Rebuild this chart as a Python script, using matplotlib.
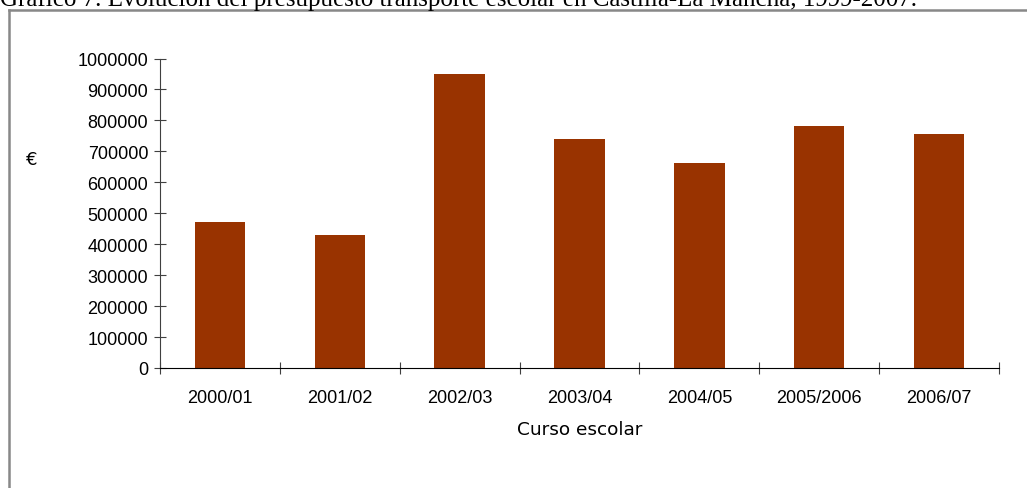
import matplotlib.pyplot as plt
from matplotlib.lines import Line2D

# datos
cursos = ['2000/01', '2001/02', '2002/03', '2003/04', '2004/05', '2005/2006', '2006/07']
presupuesto = [472000, 430000, 950000, 740000, 662000, 782000, 756000]
yticks = [0, 100000, 200000, 300000, 400000, 500000, 600000, 700000, 800000, 900000, 1000000]

fig = plt.figure(figsize=(10.27, 4.89), dpi=100)
ax = fig.add_axes([160 / 1027, 1 - 369 / 489, 839 / 1027, 309.5 / 489])

x = range(len(cursos))
ax.bar(x, presupuesto, width=0.42, color='#993300')

ax.set_xlim(-0.5, len(cursos) - 0.5)
ax.set_ylim(0, 1000000)
ax.set_yticks(yticks)
ax.set_yticklabels([str(v) for v in yticks], fontsize=13, family='Liberation Sans')
ax.set_xticks([i + 0.5 for i in range(-1, len(cursos))])
ax.set_xticklabels([])
ax.set_xticks(list(x), minor=True)
ax.set_xticklabels(cursos, minor=True, fontsize=13, family='Liberation Sans')
ax.tick_params(axis='x', which='minor', length=0, pad=15)
ax.tick_params(axis='x', which='major', direction='inout', length=9, color='#404040')
ax.tick_params(axis='y', direction='inout', length=9, color='#404040', pad=4)

ax.spines['top'].set_visible(False)
ax.spines['right'].set_visible(False)
ax.spines['left'].set_color('#404040')
ax.spines['bottom'].set_color('black')

ax.set_xlabel('Curso escolar', fontsize=13.3, family='DejaVu Sans', labelpad=10)
fig.text(32 / 1027, 1 - 160 / 489, '€', fontsize=13, family='DejaVu Sans', ha='center', va='center')

# marco gris
fig.add_artist(Line2D([8.5 / 1027, 1.0], [1 - 11 / 489, 1 - 11 / 489], color='#888888', lw=1.8, transform=fig.transFigure))
fig.add_artist(Line2D([8.5 / 1027, 8.5 / 1027], [1 - 11 / 489, 0.0], color='#888888', lw=1.8, transform=fig.transFigure))

# titulo cortado arriba
fig.text(0.0, 1 - 6 / 489, 'Gráfico 7. Evolución del presupuesto transporte escolar en Castilla-La Mancha, 1999-2007.',
         fontsize=18, family='Liberation Serif', ha='left', va='baseline')

fig.savefig('out.png', dpi=100)
